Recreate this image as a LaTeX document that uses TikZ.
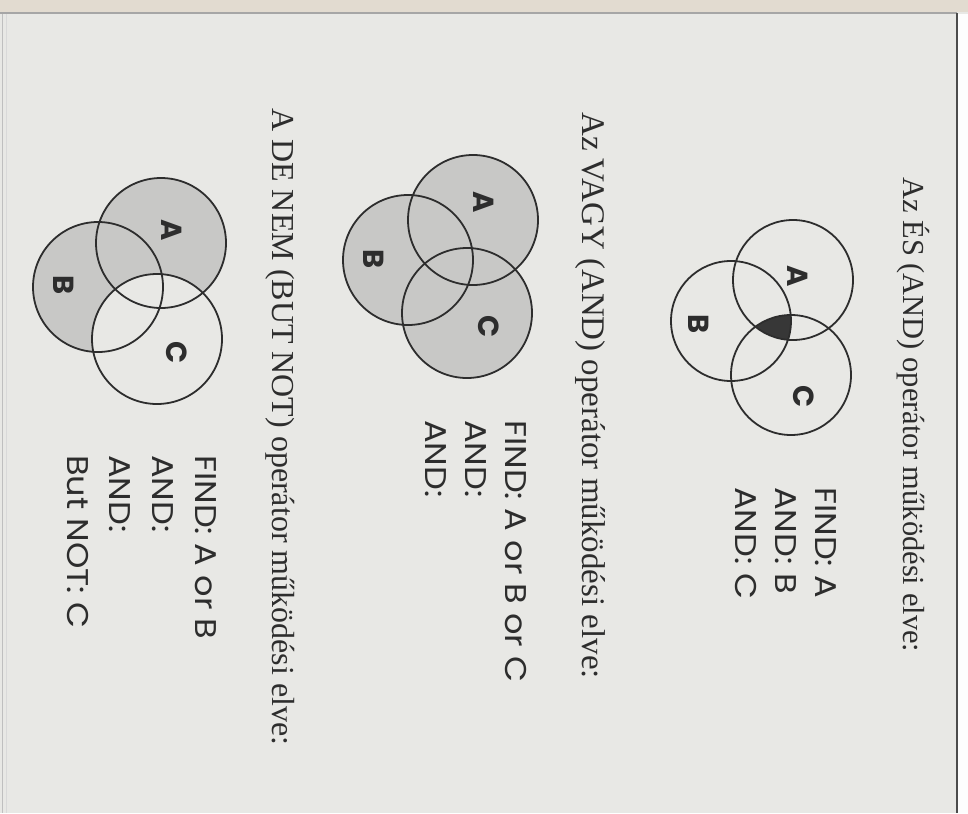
\documentclass[tikz,border=0pt]{standalone}
\usepackage{fontspec}
\setmainfont{Liberation Serif}
\setsansfont{Poppins}
\definecolor{pageG}{RGB}{232,232,229}
\definecolor{edgeT}{RGB}{226,219,208}
\definecolor{inkK}{RGB}{45,45,45}
\definecolor{screenG}{RGB}{200,200,198}
\definecolor{solidK}{RGB}{55,55,55}
\tikzset{venn/.style={draw=inkK, line width=1.8pt},
  head/.style={anchor=base west, rotate=-90, inner sep=0pt, text=inkK, font=\fontsize{#1}{#1}\selectfont},
  head/.default=31,
  query/.style={anchor=base west, rotate=-90, xscale=1.12, inner sep=0pt, text=inkK, font=\sffamily\fontsize{30}{30}\selectfont},
  setlbl/.style={rotate=-90, inner sep=0pt, text=inkK, font=\sffamily\bfseries\fontsize{29}{29}\selectfont}}

\begin{document}
\begin{tikzpicture}[x=1pt, y=-1pt]
  \useasboundingbox (0,0) rectangle (968,813);
  % scanned page
  \fill[pageG] (0,0) rectangle (968,813);
  \fill[edgeT] (0,0) rectangle (968,12);
  \draw[black!35, line width=1.5pt] (0,13) -- (957,13);
  \fill[white!92!pageG] (958,14) rectangle (968,813);
  \draw[black!70, line width=1.5pt] (957,13) -- (957,813);
  \draw[black!25, line width=1pt] (2,14) -- (2,813);
  \draw[black!15, line width=1pt] (6,14) -- (6,813);

  % AND
  \coordinate (andA) at (793,280);
  \coordinate (andB) at (731,321);
  \coordinate (andC) at (791,375);
  \begin{scope}
    \clip (andA) circle[radius=60];
    \clip (andC) circle[radius=60];
    \fill[solidK] (andB) circle[radius=60];
  \end{scope}
  \draw[venn] (andA) circle[radius=60];
  \draw[venn] (andB) circle[radius=60];
  \draw[venn] (andC) circle[radius=60];
  \node[setlbl] (andLA) at (798,276) {A};
  \node[setlbl] (andLB) at (699,324) {B};
  \node[setlbl] (andLC) at (804,397) {C};
  \node[head=30.5] (andHead) at (903,177) {Az ÉS (AND) operátor működési elve:};
  \node[query] (andQ1) at (815,487) {FIND: A};
  \node[query] (andQ2) at (775,487) {AND: B};
  \node[query] (andQ3) at (735,487) {AND: C};

  % OR
  \coordinate (orA) at (473,220);
  \coordinate (orB) at (408,260);
  \coordinate (orC) at (467,313);
  \fill[screenG] (orA) circle[radius=65];
  \fill[screenG] (orB) circle[radius=65];
  \fill[screenG] (orC) circle[radius=65];
  \draw[venn] (orA) circle[radius=65];
  \draw[venn] (orB) circle[radius=65];
  \draw[venn] (orC) circle[radius=65];
  \node[setlbl] (orLA) at (484,202) {A};
  \node[setlbl] (orLB) at (374,259) {B};
  \node[setlbl] (orLC) at (489,327) {C};
  \node[head=33] (orHead) at (582,112) {Az VAGY (AND) operátor működési elve:};
  \node[query] (orQ1) at (505,420) {FIND: A or B or C};
  \node[query] (orQ2) at (465,420) {AND:};
  \node[query] (orQ3) at (425,420) {AND:};

  % BUT NOT
  \coordinate (notA) at (161,243);
  \coordinate (notB) at (98,287);
  \coordinate (notC) at (157,339);
  \fill[screenG] (notA) circle[radius=65];
  \fill[screenG] (notB) circle[radius=65];
  \fill[pageG] (notC) circle[radius=65];
  \draw[venn] (notA) circle[radius=65];
  \draw[venn] (notB) circle[radius=65];
  \draw[venn] (notC) circle[radius=65];
  \node[setlbl] (notLA) at (172,230) {A};
  \node[setlbl] (notLB) at (64,285) {B};
  \node[setlbl] (notLC) at (177,353) {C};
  \node[head=32] (notHead) at (272,108) {A DE NEM (BUT NOT) operátor működési elve:};
  \node[query] (notQ1) at (195,455) {FIND: A or B};
  \node[query] (notQ2) at (152,455) {AND:};
  \node[query] (notQ3) at (109,455) {AND:};
  \node[query] (notQ4) at (67,455) {But NOT: C};
\end{tikzpicture}
\end{document}
